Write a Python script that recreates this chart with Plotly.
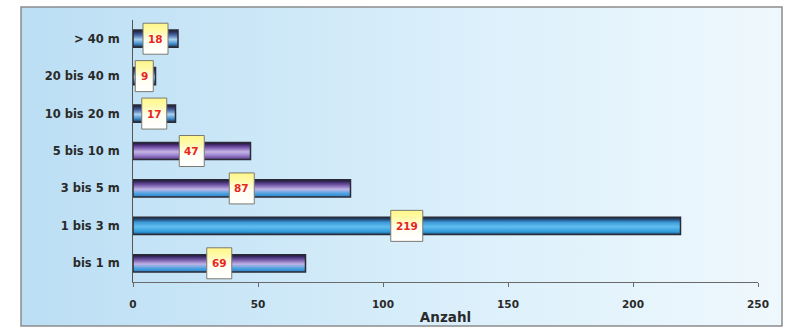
import plotly.graph_objects as go

# Distance classes (bottom to top) and counts
categories = ["bis 1 m", "1 bis 3 m", "3 bis 5 m", "5 bis 10 m",
              "10 bis 20 m", "20 bis 40 m", "> 40 m"]
counts = [69, 219, 87, 47, 17, 9, 18]
x_ticks = [0, 50, 100, 150, 200, 250]

# Bar gradient styles (vertical: 0 = bottom edge, 1 = top edge)
GRADIENTS = {
    "blue": [[0, "#1d4f80"], [0.15, "#2f9ad8"], [0.45, "#5fbdef"],
             [0.7, "#3d9ad8"], [0.88, "#234a78"], [1, "#1a2438"]],
    "violet": [[0, "#2f7fc4"], [0.2, "#4aa2e0"], [0.45, "#c0b4e6"],
               [0.7, "#7458a8"], [0.88, "#3a2a66"], [1, "#1e1636"]],
    "purple": [[0, "#5a3a8e"], [0.25, "#9a82cc"], [0.45, "#c6b6e6"],
               [0.7, "#7a58ae"], [0.88, "#3e2668"], [1, "#1e1434"]],
    "steel": [[0, "#1c2c48"], [0.2, "#3f8ccc"], [0.45, "#a8d2f0"],
              [0.7, "#4c6aa8"], [0.88, "#2a3460"], [1, "#1a1e30"]],
}
bar_styles = ["violet", "blue", "violet", "purple", "steel", "steel", "steel"]

W, H = 786, 330
# frame (the light-blue box) in pixels
BOX_L, BOX_T, BOX_R, BOX_B = 21, 7, 782, 326
# plot area in pixels
PL, PR, PT, PB = 133, 758, 20, 282

paper_w = BOX_R - BOX_L
paper_h = BOX_B - BOX_T
x_dom = [(PL - BOX_L) / paper_w, (PR - BOX_L) / paper_w]
y_dom = [(BOX_B - PB) / paper_h, (BOX_B - PT) / paper_h]

X_MAX = 250
px_per_x = (PR - PL) / X_MAX
px_per_y = (PB - PT) / len(categories)
BAR_HALF = 0.23

FONT = "DejaVu Sans"

fig = go.Figure()

# background of the framed area: horizontal blue-to-white gradient
fig.add_trace(go.Scatter(
    x=[0, 1, 1, 0, 0], y=[0, 0, 1, 1, 0], xaxis="x", yaxis="y",
    mode="lines", fill="toself", line=dict(width=0),
    fillgradient=dict(type="horizontal",
                      colorscale=[[0, "#bbdef4"], [0.6, "#dcf0fb"], [1, "#eff8fd"]]),
    hoverinfo="skip", showlegend=False,
))

# bars as gradient-filled rectangles
for i, (v, st) in enumerate(zip(counts, bar_styles)):
    fig.add_trace(go.Scatter(
        x=[0, v, v, 0, 0],
        y=[i - BAR_HALF, i - BAR_HALF, i + BAR_HALF, i + BAR_HALF, i - BAR_HALF],
        xaxis="x2", yaxis="y2", mode="lines", fill="toself",
        line=dict(color="#2b2b36", width=1.5),
        fillgradient=dict(type="vertical", colorscale=GRADIENTS[st]),
        hovertemplate=f"{categories[i]}: {v}<extra></extra>", showlegend=False,
    ))

# value label boxes centred on each bar
for i, v in enumerate(counts):
    n = len(str(v))
    half_w = (11 + 7.0 * n) / 2 / px_per_x
    half_h = 15.5 / px_per_y
    cx = v / 2
    fig.add_trace(go.Scatter(
        x=[cx - half_w, cx + half_w, cx + half_w, cx - half_w, cx - half_w],
        y=[i - half_h, i - half_h, i + half_h, i + half_h, i - half_h],
        xaxis="x2", yaxis="y2", mode="lines", fill="toself",
        line=dict(color="#7a7a70", width=1),
        fillgradient=dict(type="vertical",
                          colorscale=[[0, "#ffffff"], [0.45, "#fffef0"],
                                      [0.75, "#fffaa8"], [1, "#fff68a"]]),
        hoverinfo="skip", showlegend=False,
    ))
    fig.add_annotation(
        x=cx, y=i, xref="x2", yref="y2", text=f"<b>{v}</b>", showarrow=False,
        font=dict(family=FONT, size=10.5, color="#e8261c"),
    )

fig.update_layout(
    width=W, height=H, autosize=False,
    margin=dict(l=BOX_L, r=W - BOX_R, t=BOX_T, b=H - BOX_B, pad=0, autoexpand=False),
    paper_bgcolor="white", plot_bgcolor="rgba(0,0,0,0)",
    xaxis=dict(domain=[0, 1], range=[0, 1], visible=False, fixedrange=True,
               automargin=False),
    yaxis=dict(domain=[0, 1], range=[0, 1], visible=False, fixedrange=True,
               automargin=False),
    xaxis2=dict(
        domain=x_dom, anchor="y2", range=[0, X_MAX], automargin=False,
        tickvals=x_ticks, ticktext=[f"<b>{t}</b>" for t in x_ticks],
        ticks="outside", ticklen=4, tickcolor="#6a6a6a",
        showline=True, linecolor="#6a6a6a", linewidth=1,
        showgrid=False, zeroline=False,
        tickfont=dict(family=FONT, size=10.5, color="#2a2a2a"),
        ticklabelstandoff=8,
        title=dict(text="<b>Anzahl</b>", standoff=3,
                   font=dict(family=FONT, size=13.5, color="#2a2a2a")),
    ),
    yaxis2=dict(
        domain=y_dom, anchor="x2", range=[-0.5, len(categories) - 0.5],
        automargin=False,
        tickvals=list(range(len(categories))),
        ticktext=[f"<b>{c}</b>" for c in categories],
        ticks="", showline=True, linecolor="#555555", linewidth=1,
        showgrid=False, zeroline=False,
        tickfont=dict(family=FONT, size=11.5, color="#2a2a2a"),
        ticklabelstandoff=10,
    ),
    shapes=[dict(type="rect", xref="paper", yref="paper", x0=0, y0=0, x1=1, y1=1,
                 line=dict(color="#8c8c8c", width=1.5), layer="above")],
)

fig.write_html("out.html", config={"responsive": False})
